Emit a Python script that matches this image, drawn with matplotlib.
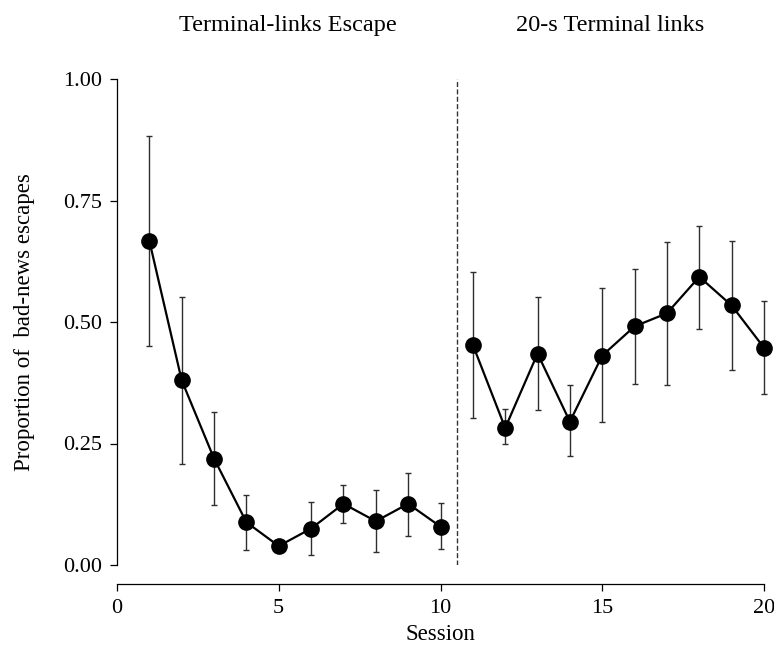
import numpy as np
import matplotlib
matplotlib.use("Agg")
import matplotlib.pyplot as plt

plt.rcParams['font.family'] = ['Liberation Serif', 'DejaVu Serif']

# Session means and error-bar limits (proportion of bad-news escapes)
sessions_escape = [1, 2, 3, 4, 5, 6, 7, 8, 9, 10]
sessions_terminal = [11, 12, 13, 14, 15, 16, 17, 18, 19, 20]

mean_escape = [0.667, 0.380, 0.219, 0.088, 0.039, 0.075, 0.126, 0.090, 0.126, 0.079]
upper_escape = [0.883, 0.552, 0.314, 0.145, 0.039, 0.129, 0.164, 0.155, 0.190, 0.127]
lower_escape = [0.451, 0.208, 0.123, 0.031, 0.039, 0.021, 0.086, 0.026, 0.060, 0.032]

mean_terminal = [0.453, 0.282, 0.435, 0.295, 0.431, 0.491, 0.518, 0.593, 0.534, 0.447]
upper_terminal = [0.603, 0.320, 0.552, 0.371, 0.569, 0.610, 0.665, 0.698, 0.666, 0.544]
lower_terminal = [0.303, 0.250, 0.319, 0.225, 0.294, 0.372, 0.370, 0.486, 0.401, 0.351]

phase_titles = ['Terminal-links Escape', '20-s Terminal links']
phase_break = 10.5

x_ticks = [0, 5, 10, 15, 20]
y_ticks = [0.00, 0.25, 0.50, 0.75, 1.00]

W, H = 774, 651
fig = plt.figure(figsize=(W / 100, H / 100), dpi=100)
ax = fig.add_axes([117 / W, 1 - 565 / H, (764 - 117) / W, (565 - 79) / H])


def draw_phase(xs, mean, lower, upper):
    mean = np.array(mean)
    yerr = [mean - np.array(lower), np.array(upper) - mean]
    ax.errorbar(xs, mean, yerr=yerr, fmt='none', ecolor='#2e2e2e',
                elinewidth=1.0, capsize=2.5, capthick=1.0, zorder=2, clip_on=False)
    ax.plot(xs, mean, color='black', lw=1.6, zorder=3, clip_on=False)
    ax.plot(xs, mean, 'o', color='black', markersize=11, zorder=4, clip_on=False)


draw_phase(sessions_escape, mean_escape, lower_escape, upper_escape)
draw_phase(sessions_terminal, mean_terminal, lower_terminal, upper_terminal)

ax.vlines(phase_break, 0, 1, colors='#333333', linestyles=(0, (3.6, 1.7)), lw=1.0)

ax.set_xlim(0, 20)
ax.set_ylim(0, 1)
ax.set_xticks(x_ticks)
ax.set_yticks(y_ticks)
ax.set_yticklabels([f'{v:.2f}' for v in y_ticks])

for side in ('top', 'right'):
    ax.spines[side].set_visible(False)
ax.spines['bottom'].set_position(('outward', 13.7))
ax.spines['left'].set_linewidth(0.9)
ax.spines['bottom'].set_linewidth(0.9)
ax.tick_params(axis='both', direction='out', length=5, width=0.9, labelsize=16)
ax.tick_params(axis='y', pad=6)
ax.tick_params(axis='x', pad=6)

ax.set_xlabel('Session', fontsize=16.5, labelpad=4)
ax.set_ylabel('Proportion of  bad-news escapes', fontsize=16.5, labelpad=20)

# phase labels above the plot
title_x = [288 / W, 610 / W]
for tx, title in zip(title_x, phase_titles):
    fig.text(tx, 1 - 31 / H, title, ha='center', va='baseline', fontsize=17.5)

fig.savefig('out.png', dpi=100)
